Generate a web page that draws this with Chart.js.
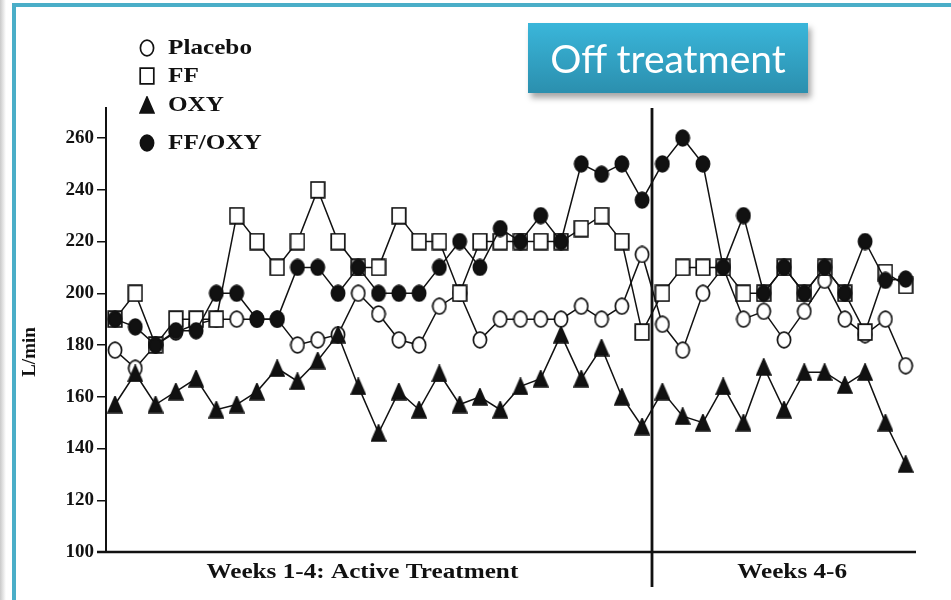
<!DOCTYPE html>
<html lang="en">
<head>
  <meta charset="UTF-8">
  <title>Peak flow by treatment</title>
  <script src="https://cdn.jsdelivr.net/npm/chart.js"></script>
  <style>
    body { margin: 0; background: #fff; }
    #wrap { position: relative; width: 951px; height: 600px; overflow: hidden; }
    #grafico { position: absolute; left: 0; top: 0; }
    #offBox {
      position: absolute; left: 528px; top: 23px; width: 280px; height: 70px;
      background: linear-gradient(#3ab6da, #2b8fae);
      box-shadow: 3px 5px 6px rgba(0,0,0,0.35);
      color: #fff; font-family: Lato, "Open Sans", sans-serif; font-size: 39px;
      line-height: 70px; text-align: center;
    }
  </style>
</head>
<body>
<div id="wrap">
  <canvas id="grafico" width="951" height="600"></canvas>
  <div id="offBox">Off treatment</div>
</div>

<script>
  // peak flow (L/min), one reading per visit; first 27 on treatment, last 13 off
  const placebo = [178,171,180,185,188,190,190,190,190,180,182,184,200,192,182,180,195,200,182,190,190,190,190,195,190,195,215,
                   188,178,200,210,190,193,182,193,205,190,184,190,172];
  const ff      = [190,200,180,190,190,190,230,220,210,220,240,220,210,210,230,220,220,200,220,220,220,220,220,225,230,220,185,
                   200,210,210,210,200,200,210,200,210,200,185,208,203];
  const oxy     = [157,169,157,162,167,155,157,162,171,166,174,184,164,146,162,155,169,157,160,155,164,167,184,167,179,160,148.5,
                   162,152.5,150,164,150,171.5,155,169.5,169.5,164.5,169.5,150,134];
  const ffOxy   = [190,187,180,185.5,185.5,200,200,190,190,210,210,200,210,200,200,200,210,220,210,225,220,230,220,250,246,250,236,
                   250,260,250,210,230,200,210,200,210,200,220,205,205.5];

  const seriesNames = ['Placebo', 'FF', 'OXY', 'FF/OXY'];
  const yTicks = [100, 120, 140, 160, 180, 200, 220, 240, 260];
  const periodLabels = ['Weeks 1-4: Active Treatment', 'Weeks 4-6'];
  const periodCenters = [12.2, 33.4];
  const periodSplit = 26.5;

  const SERIF = '"Liberation Serif", "Times New Roman", serif';
  const INK = '#111';

  // small bitmap markers, a bit taller than wide
  function marker(shape, filled) {
    const c = document.createElement('canvas');
    c.width = 16; c.height = 18;
    const g = c.getContext('2d');
    g.lineWidth = 1.7;
    g.strokeStyle = INK;
    g.fillStyle = filled ? INK : '#fff';
    g.beginPath();
    if (shape === 'circle') g.ellipse(8, 9, 6.6, 7.8, 0, 0, Math.PI * 2);
    else if (shape === 'rect') g.rect(1.2, 1.2, 13.6, 15.6);
    else { g.moveTo(8, 1); g.lineTo(15, 17); g.lineTo(1, 17); g.closePath(); }
    g.fill();
    g.stroke();
    return c;
  }

  const markers = [marker('circle', false), marker('rect', false), marker('tri', true), marker('circle', true)];
  const values = [placebo, ff, oxy, ffOxy];

  function stretchedText(ctx, text, x, y, sx, align) {
    ctx.save();
    ctx.translate(x, y);
    ctx.scale(sx, 1);
    ctx.textAlign = align;
    ctx.fillText(text, 0, 0);
    ctx.restore();
  }

  const moldura = {
    id: 'moldura',
    beforeDraw(chart) {
      const ctx = chart.ctx;
      ctx.save();
      ctx.fillStyle = '#fff';
      ctx.fillRect(0, 0, 951, 600);
      const sombra = ctx.createLinearGradient(0, 0, 6, 0);
      sombra.addColorStop(0, '#c9c9c9');
      sombra.addColorStop(1, '#fff');
      ctx.fillStyle = sombra;
      ctx.fillRect(0, 0, 6, 600);
      ctx.fillStyle = '#4aaec8';
      ctx.fillRect(12, 3, 939, 4);
      ctx.fillRect(12, 3, 4, 597);
      ctx.restore();
    }
  };

  const extras = {
    id: 'extras',
    afterDraw(chart) {
      const ctx = chart.ctx;
      const xs = chart.scales.x;
      const area = chart.chartArea;
      ctx.save();
      ctx.strokeStyle = INK;
      ctx.fillStyle = INK;

      // baseline
      ctx.lineWidth = 2.5;
      ctx.beginPath();
      ctx.moveTo(97, area.bottom);
      ctx.lineTo(area.right, area.bottom);
      ctx.stroke();

      // treatment / off-treatment divider
      const xs0 = Math.round(xs.getPixelForValue(periodSplit));
      ctx.lineWidth = 2.8;
      ctx.beginPath();
      ctx.moveTo(xs0, area.top);
      ctx.lineTo(xs0, 587);
      ctx.stroke();

      ctx.textBaseline = 'middle';
      ctx.font = 'bold 21px ' + SERIF;
      periodLabels.forEach((t, i) => stretchedText(ctx, t, xs.getPixelForValue(periodCenters[i]), 573, 1.2, 'center'));

      // y title
      ctx.save();
      ctx.translate(30, 352);
      ctx.rotate(-Math.PI / 2);
      ctx.textAlign = 'center';
      ctx.font = 'bold 19px ' + SERIF;
      ctx.fillText('L/min', 0, 0);
      ctx.restore();

      // legend
      const legY = [48, 76, 105, 143];
      ctx.font = 'bold 21px ' + SERIF;
      seriesNames.forEach((n, i) => {
        ctx.drawImage(markers[i], 147 - 8, legY[i] - 9);
        stretchedText(ctx, n, 168, legY[i] + 1, 1.2, 'left');
      });
      ctx.restore();
    }
  };

  const ctx = document.getElementById('grafico').getContext('2d');
  const chart = new Chart(ctx, {
    type: 'line',
    data: {
      datasets: values.map((arr, i) => ({
        label: seriesNames[i],
        data: arr.map((v, k) => ({ x: k, y: v })),
        borderColor: INK,
        borderWidth: 1.5,
        pointStyle: markers[i],
        pointRadius: 8,
        tension: 0,
        order: 3 - i
      }))
    },
    options: {
      responsive: false,
      animation: false,
      layout: { padding: { top: 108, right: 35, bottom: 48, left: 0 } },
      plugins: { legend: { display: false }, tooltip: { enabled: false } },
      scales: {
        x: { type: 'linear', display: false, min: -0.444, max: 39.51 },
        y: {
          min: 100,
          max: 271.6,
          afterFit(scale) { scale.width = 106; },
          afterBuildTicks(scale) { scale.ticks = yTicks.map(v => ({ value: v })); },
          border: { display: true, color: INK, width: 2 },
          grid: { drawOnChartArea: false, drawTicks: true, tickLength: 9, color: INK, lineWidth: 1.5 },
          ticks: { color: INK, padding: 3, font: { family: SERIF, size: 19, weight: 'bold' } }
        }
      }
    },
    plugins: [moldura, extras]
  });
</script>
</body>
</html>
